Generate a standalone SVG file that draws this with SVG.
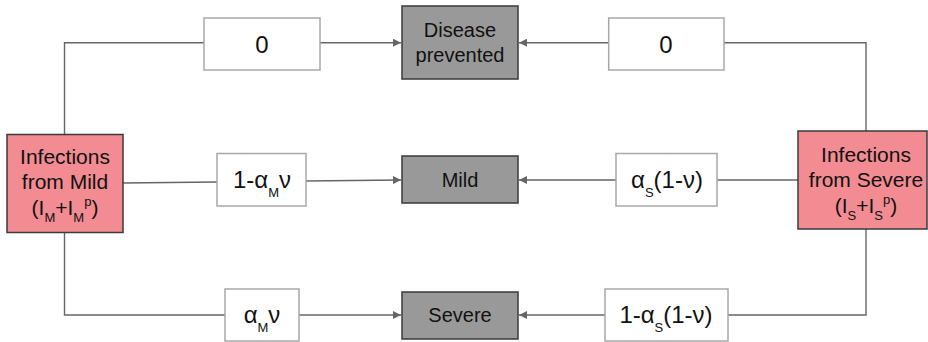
<svg xmlns="http://www.w3.org/2000/svg" width="928" height="342" viewBox="0 0 928 342">
<style>
.src{fill:#f28c92;stroke:#3a3a3a;stroke-width:1.5}
.out{fill:#999999;stroke:#3a3a3a;stroke-width:1.5}
.lbl{fill:#ffffff;stroke:#a8a8a8;stroke-width:1.5}
text{font-family:"Liberation Sans",Arial,sans-serif;fill:#111;text-anchor:middle}
.t20{font-size:20px}
.t21{font-size:21px}
.t24{font-size:24px}
.sub{font-size:13px}
.con{fill:none;stroke:#666;stroke-width:1.4}
</style>
<defs>
<marker id="arr" viewBox="0 0 10 10" refX="10" refY="5" markerWidth="10" markerHeight="8" markerUnits="userSpaceOnUse" orient="auto">
<path d="M0,0 L10,5 L0,10 Z" fill="#666"/>
</marker>
</defs>
<g id="connectors">
<path class="con" d="M64.5,134 V42.7 H204"/>
<path class="con" d="M320,42.7 H401" marker-end="url(#arr)"/>
<path class="con" d="M724,42.7 H866 V131"/>
<path class="con" d="M608.7,42.7 H519" marker-end="url(#arr)"/>
<path class="con" d="M123,183 L217,182"/>
<path class="con" d="M306,181 L401,180" marker-end="url(#arr)"/>
<path class="con" d="M798,180 H717"/>
<path class="con" d="M616,180 H519" marker-end="url(#arr)"/>
<path class="con" d="M64.5,232 V315 H225"/>
<path class="con" d="M299,315 H401" marker-end="url(#arr)"/>
<path class="con" d="M866,229 V315 H728"/>
<path class="con" d="M605,315 H519" marker-end="url(#arr)"/>
</g>
<g id="infections-mild">
<rect class="src" x="7" y="134.5" width="116" height="98"/>
<text class="t21" x="65" y="164">Infections</text>
<text class="t21" x="65" y="189">from Mild</text>
<text class="t21" x="65" y="215">(I<tspan class="sub" dy="7">M</tspan><tspan dy="-7">+I</tspan><tspan class="sub" dy="7">M</tspan><tspan class="sub" dy="-16">p</tspan><tspan dy="9">)</tspan></text>
</g>
<g id="infections-severe">
<rect class="src" x="798" y="131" width="129" height="98"/>
<text class="t21" x="866" y="162">Infections</text>
<text class="t21" x="866" y="187">from Severe</text>
<text class="t21" x="866" y="213">(I<tspan class="sub" dy="7">S</tspan><tspan dy="-7">+I</tspan><tspan class="sub" dy="7">S</tspan><tspan class="sub" dy="-16">p</tspan><tspan dy="9">)</tspan></text>
</g>
<g id="disease-prevented">
<rect class="out" x="402" y="6" width="116" height="73"/>
<text class="t20" x="460" y="37">Disease</text>
<text class="t20" x="460" y="62">prevented</text>
</g>
<g id="mild">
<rect class="out" x="402" y="156" width="116" height="47"/>
<text class="t20" x="460" y="187">Mild</text>
</g>
<g id="severe">
<rect class="out" x="402" y="292" width="116" height="47"/>
<text class="t20" x="460" y="322">Severe</text>
</g>
<g id="label-top-left">
<rect class="lbl" x="204" y="18" width="116" height="52"/>
<text class="t24" x="262" y="52.5">0</text>
</g>
<g id="label-top-right">
<rect class="lbl" x="608.7" y="18" width="115.3" height="52"/>
<text class="t24" x="666" y="52.5">0</text>
</g>
<g id="label-mid-left">
<rect class="lbl" x="217" y="153.5" width="89" height="52.5"/>
<text class="t24" x="262" y="188">1-α<tspan class="sub" dy="9">M</tspan><tspan dy="-9">ν</tspan></text>
</g>
<g id="label-mid-right">
<rect class="lbl" x="616" y="153.5" width="101" height="52.5"/>
<text class="t24" x="667" y="188">α<tspan class="sub" dy="9">S</tspan><tspan dy="-9">(1-ν)</tspan></text>
</g>
<g id="label-bot-left">
<rect class="lbl" x="225" y="289" width="74" height="52"/>
<text class="t24" x="262" y="323">α<tspan class="sub" dy="9">M</tspan><tspan dy="-9">ν</tspan></text>
</g>
<g id="label-bot-right">
<rect class="lbl" x="605" y="289" width="123" height="52"/>
<text class="t24" x="666" y="323">1-α<tspan class="sub" dy="9">S</tspan><tspan dy="-9">(1-ν)</tspan></text>
</g>
</svg>
